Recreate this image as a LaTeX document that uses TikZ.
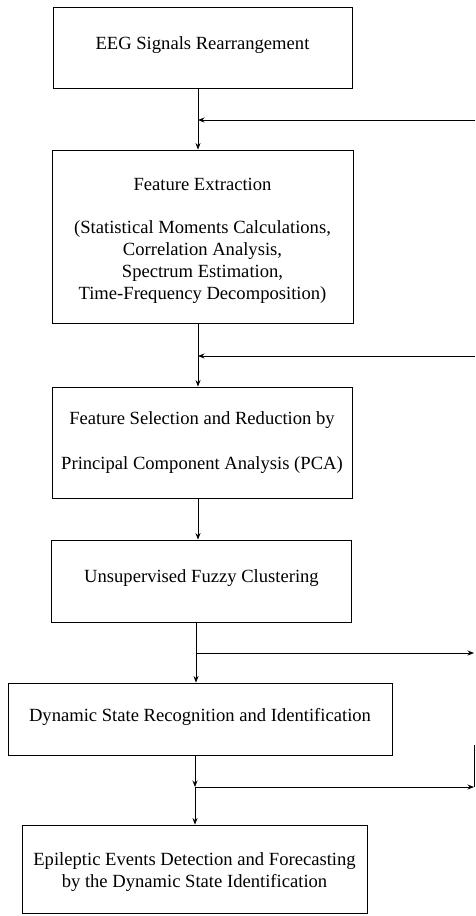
\documentclass[tikz,border=0pt]{standalone}
\usepackage{fontspec}
\setmainfont{Liberation Serif}
\usetikzlibrary{arrows.meta}
\newcommand{\shiftby}[2]{\raisebox{#1}[\height][\depth]{#2}}
\begin{document}
\begin{tikzpicture}[x=1pt,y=-1pt,
  box/.style={draw, line width=0.9pt, inner sep=0pt, align=center,
    font=\fontsize{18.6}{21.8}\selectfont},
  conn/.style={line width=0.8pt, -{Stealth[length=6.5pt,width=5pt]}},
  plain/.style={line width=0.8pt}]
\useasboundingbox (0,0) rectangle (475,916);
% boxes
\node[box, minimum width=299pt, minimum height=81pt] (b1) at (202.5,47.5)
  {\shiftby{2pt}{EEG Signals Rearrangement}};
\node[box, minimum width=301pt, minimum height=173pt] (b2) at (202.5,236.5)
  {\shiftby{-4pt}{\begin{tabular}{@{}c@{}}Feature Extraction\\[21.8pt]
  (Statistical Moments Calculations,\\
  Correlation Analysis,\\
  Spectrum Estimation,\\
  Time-Frequency Decomposition)\end{tabular}}};
\node[box, minimum width=300pt, minimum height=111pt] (b3) at (202,442.5)
  {Feature Selection and Reduction by\\[22.3pt]
   Principal Component Analysis (PCA)};
\node[box, minimum width=300pt, minimum height=82pt] (b4) at (201.5,581)
  {\shiftby{3pt}{Unsupervised Fuzzy Clustering}};
\node[box, minimum width=384pt, minimum height=72pt] (b5) at (200,719)
  {\shiftby{2pt}{Dynamic State Recognition and Identification}};
\node[box, minimum width=345pt, minimum height=88pt] (b6) at (194.5,869)
  {\shiftby{-3pt}{\begin{tabular}{@{}c@{}}Epileptic Events Detection and Forecasting\\
   by the Dynamic State Identification\end{tabular}}};
% reference coordinates
\coordinate (c1) at (198,0);
\coordinate (c2) at (196,0);
\coordinate (c3) at (195,0);
\coordinate (r1) at (475,120);
\coordinate (r2) at (475,356);
\coordinate (r3) at (474,653);
\coordinate (r4) at (474,787);
\coordinate (r5) at (474,745);
% main flow
\draw[conn] (b1.south -| c1) -- (b2.north -| c1);
\draw[conn] (b2.south -| c1) -- (b3.north -| c1);
\draw[conn] (b3.south -| c1) -- (b4.north -| c1);
\draw[conn] (b4.south -| c2) -- (b5.north -| c2);
\draw[conn] (b5.south -| c3) -- (r4 -| c3);
\draw[conn] (r4 -| c3) -- (b6.north -| c3);
% feedback inputs
\draw[conn] (r1) -- (r1 -| c1);
\draw[conn] (r2) -- (r2 -| c1);
% outputs
\draw[conn] (r3 -| c2) -- (r3);
\draw[conn] (r4 -| c3) -- (r4);
\draw[plain] (r5) -- (r4);
\end{tikzpicture}
\end{document}
